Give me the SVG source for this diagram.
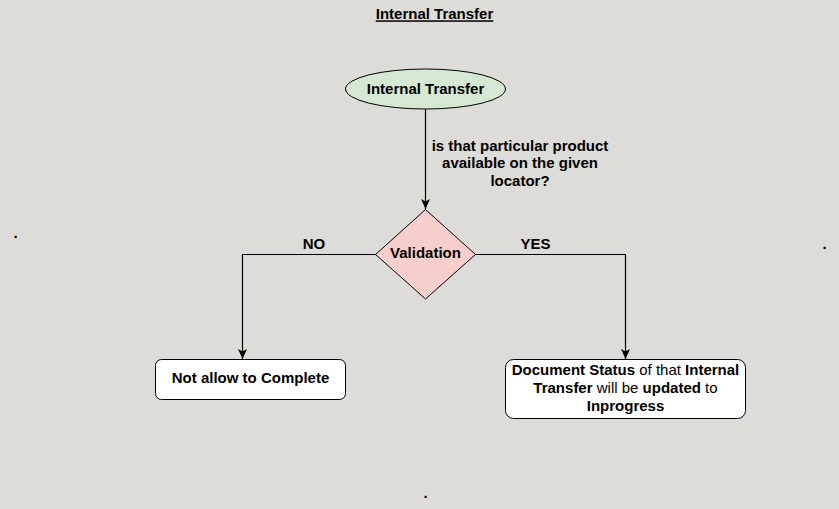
<svg xmlns="http://www.w3.org/2000/svg" width="839" height="509" viewBox="0 0 839 509">
  <style>
    text { font-family: "Liberation Sans", Arial, Helvetica, sans-serif; font-size: 15px; fill: #000; }
    .b { font-weight: bold; }
    .n { font-weight: normal; }
    .edge { fill: none; stroke: #000; stroke-width: 1.2; }
    .shape { stroke: #000; stroke-width: 1; }
  </style>
  <defs>
    <marker id="arrow" viewBox="0 0 10 10" refX="10" refY="5" markerWidth="10" markerHeight="10" markerUnits="userSpaceOnUse" orient="auto">
      <path d="M0,0.5 L10,5 L0,9.5 L2.5,5 z" fill="#000"/>
    </marker>
  </defs>
  <rect x="0" y="0" width="839" height="509" fill="#dedcd8"/>

  <g id="title">
    <text x="434.5" y="19.3" text-anchor="middle" class="b" text-decoration="underline">Internal Transfer</text>
  </g>

  <g id="connectors">
    <path class="edge" d="M425.5,109 L425.5,209" marker-end="url(#arrow)"/>
    <path class="edge" d="M376,254.5 L242.5,254.5 L242.5,359" marker-end="url(#arrow)"/>
    <path class="edge" d="M475,254.5 L625.5,254.5 L625.5,359" marker-end="url(#arrow)"/>
    <text x="520" y="150.5" text-anchor="middle" class="b">is that particular product</text>
    <text x="520" y="168" text-anchor="middle" class="b">available on the given</text>
    <text x="520" y="185.5" text-anchor="middle" class="b">locator?</text>
    <text x="314" y="249" text-anchor="middle" class="b">NO</text>
    <text x="535.5" y="248.5" text-anchor="middle" class="b">YES</text>
  </g>

  <g id="start">
    <ellipse class="shape" cx="425.5" cy="89" rx="80" ry="20" fill="#d5e8d4"/>
    <text x="425.5" y="93.5" text-anchor="middle" class="b">Internal Transfer</text>
  </g>

  <g id="validation">
    <polygon class="shape" points="425.5,209.5 475.5,254.5 425.5,299 375.5,254.5" fill="#f8cecc"/>
    <text x="425.5" y="258.3" text-anchor="middle" class="b">Validation</text>
  </g>

  <g id="not-allow">
    <rect class="shape" x="155.5" y="359.5" width="190" height="40" rx="6" ry="6" fill="#ffffff"/>
    <text x="250.5" y="383.3" text-anchor="middle" class="b">Not allow to Complete</text>
  </g>

  <g id="status-updated">
    <rect class="shape" x="505.5" y="359.5" width="240" height="59" rx="8" ry="8" fill="#ffffff"/>
    <text x="625.5" y="374.5" text-anchor="middle"><tspan class="b">Document Status</tspan><tspan class="n"> of that </tspan><tspan class="b">Internal</tspan></text>
    <text x="625.5" y="392.5" text-anchor="middle"><tspan class="b">Transfer</tspan><tspan class="n"> will be </tspan><tspan class="b">updated</tspan><tspan class="n"> to</tspan></text>
    <text x="625.5" y="410.5" text-anchor="middle" class="b">Inprogress</text>
  </g>

  <g id="dots">
    <text x="15.5" y="238" text-anchor="middle" class="b">.</text>
    <text x="824.5" y="249" text-anchor="middle" class="b">.</text>
    <text x="425.5" y="498" text-anchor="middle" class="b">.</text>
  </g>
</svg>
